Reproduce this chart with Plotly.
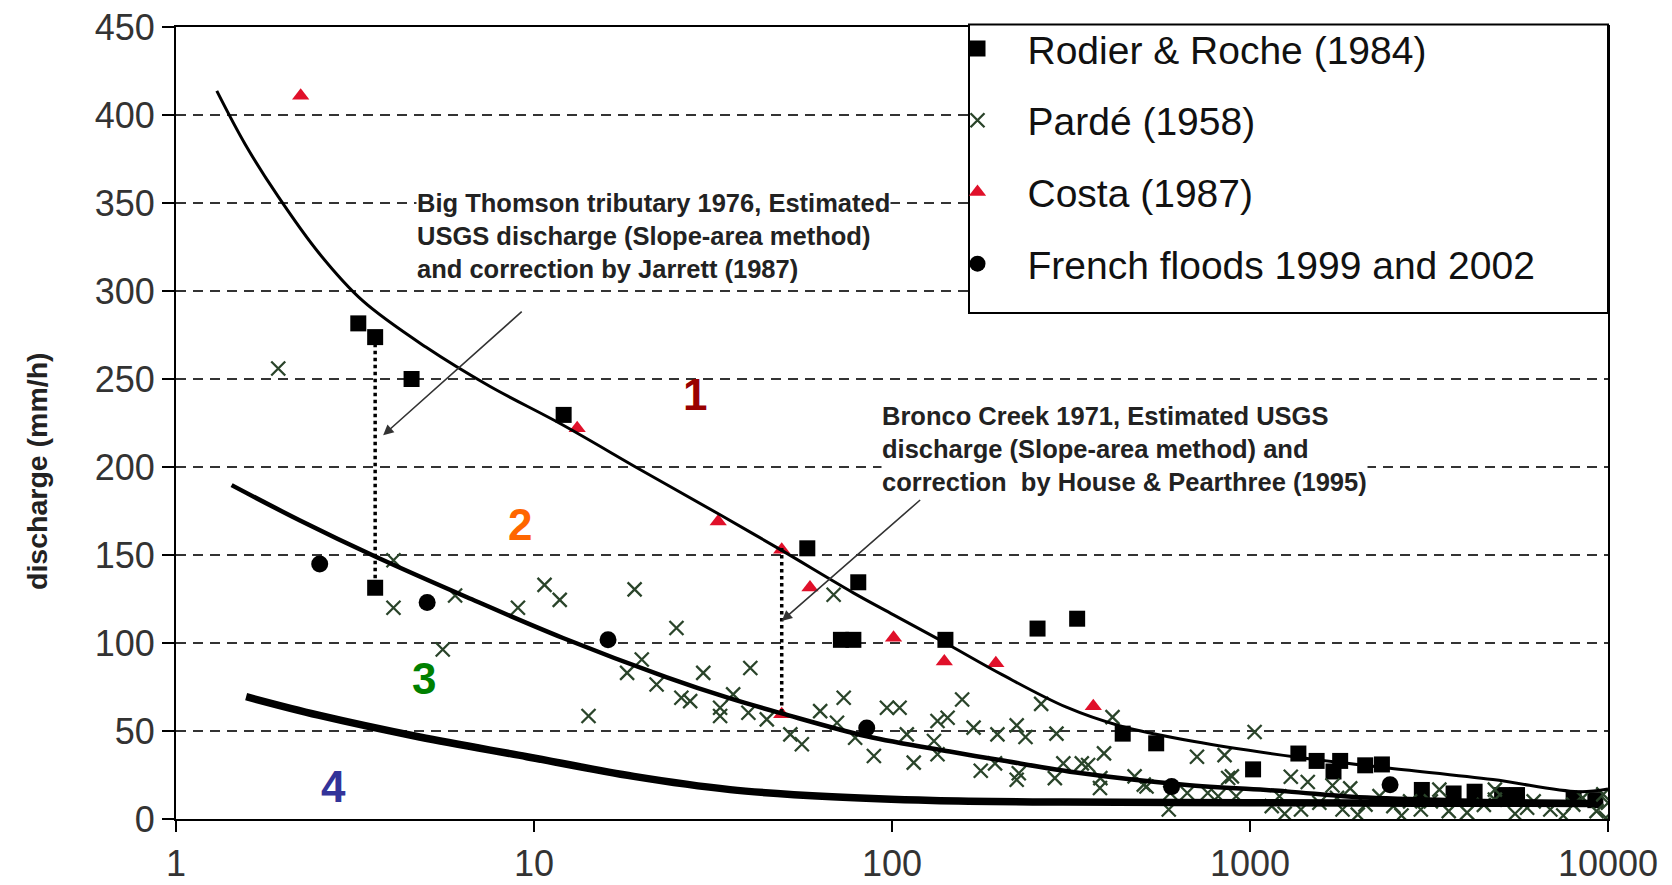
import numpy as np
import plotly.graph_objects as go

# ---------------- data ----------------
rodier_x = [3.23, 3.6, 4.55, 3.6, 12.1, 58, 80.5, 72, 78, 141, 255, 329, 441, 547,
            1020, 1365, 1535, 1711, 1786, 2098, 2336, 3020, 3704, 4240, 5060, 5570, 8016, 9220]
rodier_y = [281.6, 273.8, 250, 131.4, 229.6, 153.8, 134.5, 101.8, 101.8, 101.8, 108.2, 113.8, 48.5, 43,
            28.2, 37.2, 33, 27, 33, 30.5, 31, 16.5, 14.5, 15.5, 13.6, 13.6, 11.6, 10.7]

parde_x = [1.93, 4.05, 4.05, 6.02, 5.56, 9.02, 10.7, 11.8, 14.2, 18.2, 19.1, 20, 22, 25, 25.8, 27.3,
           29.7, 33.1, 33.1, 36, 39.7, 40.2, 44.7, 52, 56, 63, 68.7, 70.2, 73.3, 78.9, 89, 96.8, 105,
           110, 115, 131, 134, 134, 143, 157, 169, 177, 194, 197, 223, 223, 226, 236, 261, 285, 288,
           301, 339, 353, 381, 382, 391, 413, 476, 505, 514, 593, 599, 668, 711, 762, 815, 849, 869,
           890, 915, 1030, 1150, 1208, 1250, 1300, 1388, 1450, 1562, 1700, 1750, 1813, 1905, 2000,
           2102, 2300, 2514, 2650, 2800, 3000, 3200, 3380, 3590, 4040, 4500, 4830, 4830, 5500, 5945,
           6200, 6900, 7500, 8000, 8500, 9290, 9700, 9860, 10000]
parde_y = [256, 120, 147, 127, 96.3, 120, 133, 124.5, 58.5, 83, 130.5, 90.6, 76.4, 108.5, 68.9, 67,
           83, 63.2, 58.5, 70.8, 60.4, 85.8, 56.6, 48.1, 42.5, 61.3, 127.4, 54.7, 68.9, 46.2, 35.8, 63.2, 63.2,
           48.1, 32, 44.3, 55.7, 36.8, 57.5, 67.9, 51.9, 27.4, 31.6, 48.1, 53.2, 22.3, 26, 46.6, 65.4, 23.2, 48.5,
           31.6, 31.6, 30.7, 17.6, 23.2, 37.3, 57.9, 24.2, 19.5, 18.5, 5.4, 14.8, 14.8, 35.4, 14.8, 12.9, 36.3, 23.3,
           24.2, 12.9, 49.4, 7.3, 12.9, 3, 24, 5.4, 21, 9.2, 19, 12, 5.4, 17.4, 2.5,
           8.2, 13, 7.3, 2, 10, 5.4, 10, 16.7, 4.5, 3.6, 8, 11, 16.7, 3, 6.4,
           10, 5.4, 2, 8.2, 12, 4.5, 14, 0.7, 9.2]

costa_x = [2.23, 13.2, 32.7, 49.2, 59, 49.2, 101, 140, 195, 365]
costa_y = [411, 222, 169, 153, 131.5, 59.5, 103, 89.5, 88.5, 64]

french_x = [2.52, 5.03, 16.1, 85, 604, 2462]
french_y = [144.9, 123, 101.8, 51.7, 18.4, 19.4]

curve1_x = [1.30, 1.56, 1.92, 2.52, 3.32, 5.0, 7.5, 12, 20, 33, 49.2, 78, 101, 141, 203, 307, 432,
            699, 1359, 2402, 4769, 8251, 10000]
curve1_y = [413.7, 383.4, 354.3, 321, 294.5, 268, 246, 224, 198, 173, 152.6, 128.5, 116, 100, 82, 63.5, 53,
            44, 35.1, 29.1, 22.4, 15.5, 17]

curve2_x = [1.43, 2.22, 3.64, 6.5, 12, 23.5, 35.3, 49.2, 85, 145, 200, 339, 655, 1262, 1923, 3660, 9220]
curve2_y = [189.7, 169.6, 148.7, 126, 103, 80.5, 68.5, 60, 47, 38.3, 33.5, 26, 19.5, 15.7, 12.6, 10.7, 9.3]

curve3_x = [1.57, 2.5, 4.79, 9.55, 19, 35.3, 68, 130, 300, 1000, 3000, 9200]
curve3_y = [69.5, 59, 46.6, 35.4, 24.2, 16.7, 12.6, 10.5, 9.6, 9.3, 9.0, 8.8]

thomson_x = [3.6, 3.6]
thomson_y = [274, 131]
bronco_x = [49.2, 49.2]
bronco_y = [154, 59]

x_ticks = [1, 10, 100, 1000, 10000]
x_ticktext = ["1", "10", "100", "1000", "10000"]
y_ticks = [0, 50, 100, 150, 200, 250, 300, 350, 400, 450]

FONT = "Liberation Sans, Arial, sans-serif"
OFF = 8                       # page body margin of the browser
PL, PT, PW, PH = 176, 27, 1432, 792   # wanted plot box in the screenshot
L, T = PL - OFF, PT - OFF
FW, FH = 1672 - OFF, 885 - OFF
R, B = FW - L - PW, FH - T - PH

fig = go.Figure()

fig.add_trace(go.Scatter(x=rodier_x, y=rodier_y, mode="markers", name="Rodier & Roche (1984)",
                         legendgroup="a",
                         marker=dict(symbol="square", size=16, color="black")))
fig.add_trace(go.Scatter(x=parde_x, y=parde_y, mode="markers", name="Pardé (1958)",
                         legendgroup="b",
                         marker=dict(symbol="x-thin", size=14, color="#2a442a",
                                     line=dict(width=2.3, color="#2a442a"))))
fig.add_trace(go.Scatter(x=costa_x, y=costa_y, mode="markers", name="Costa (1987)",
                         legendgroup="c",
                         marker=dict(symbol="triangle-up", size=15, color="#e0102a")))
fig.add_trace(go.Scatter(x=french_x, y=french_y, mode="markers", name="French floods 1999 and 2002",
                         legendgroup="d",
                         marker=dict(symbol="circle", size=17, color="black")))

for cx, cy, w in [(curve1_x, curve1_y, 3), (curve2_x, curve2_y, 4.5), (curve3_x, curve3_y, 7.5)]:
    fig.add_trace(go.Scatter(x=cx, y=cy, mode="lines", showlegend=False, hoverinfo="skip",
                             line=dict(color="black", width=w, shape="spline", smoothing=1.0)))

for dx, dy in [(thomson_x, thomson_y), (bronco_x, bronco_y)]:
    fig.add_trace(go.Scatter(x=dx, y=dy, mode="lines", showlegend=False, hoverinfo="skip",
                             line=dict(color="black", width=3.5, dash="dot")))

annotations = [
    dict(x=np.log10(4.68), y=358.5, xref="x", yref="y", xanchor="left", yanchor="top", align="left",
         showarrow=False, bgcolor="white", borderpad=0,
         text="<b>Big Thomson tributary 1976, Estimated<br>USGS discharge (Slope-area method)<br>and correction by Jarrett (1987)</b>",
         font=dict(family=FONT, size=25.5, color="#222")),
    dict(x=np.log10(92.9), y=237.5, xref="x", yref="y", xanchor="left", yanchor="top", align="left",
         showarrow=False, bgcolor="white", borderpad=0,
         text="<b>Bronco Creek 1971, Estimated USGS<br>discharge (Slope-area method) and<br>correction  by House &amp; Pearthree (1995)</b>",
         font=dict(family=FONT, size=25.5, color="#222")),
    dict(x=np.log10(3.79), y=218, ax=np.log10(9.33), ay=289, xref="x", yref="y", axref="x", ayref="y",
         text="", showarrow=True, arrowhead=2, arrowsize=1.3, arrowwidth=1.6, arrowcolor="#333"),
    dict(x=np.log10(49.2), y=112.5, ax=np.log10(121), ay=182, xref="x", yref="y", axref="x", ayref="y",
         text="", showarrow=True, arrowhead=2, arrowsize=1.3, arrowwidth=1.6, arrowcolor="#333"),
    dict(x=(37 - PL) / PW, y=(PT + PH - 471) / PH, xref="paper", yref="paper", showarrow=False,
         xanchor="center", yanchor="middle",
         textangle=-90, text="<b>discharge (mm/h)</b>",
         font=dict(family=FONT, size=28.5, color="#222")),
]
for txt, lx, ly, col in [("1", 28.2, 241.4, "#990000"), ("2", 9.14, 167.3, "#ff6600"),
                         ("3", 4.93, 79.7, "#008000"), ("4", 2.76, 18.5, "#333399")]:
    annotations.append(dict(x=np.log10(lx), y=ly, xref="x", yref="y", showarrow=False,
                            text="<b>" + txt + "</b>", font=dict(family=FONT, size=44, color=col)))

fig.update_layout(
    template="none",
    width=FW, height=FH,
    paper_bgcolor="white", plot_bgcolor="white",
    margin=dict(l=L, r=R, t=T, b=B, autoexpand=False),
    font=dict(family=FONT, color="#222"),
    showlegend=True,
    legend=dict(x=(927.5 - PL) / PW, xanchor="left", y=1.013, yanchor="top", itemwidth=90,
                bgcolor="rgba(0,0,0,0)", borderwidth=0, traceorder="grouped",
                tracegroupgap=18, font=dict(family=FONT, size=39, color="#111")),
    annotations=annotations,
    shapes=[dict(type="rect", xref="paper", yref="paper", x0=(969 - PL) / PW, x1=1.0,
                 y0=(PT + PH - 313) / PH, y1=1.003, fillcolor="white",
                 line=dict(color="black", width=2), layer="above")],
)

fig.update_xaxes(type="log", range=[0, 4], tickvals=x_ticks, ticktext=x_ticktext, automargin=False,
                 showgrid=False, zeroline=False, showline=True, linecolor="black", linewidth=2,
                 mirror=True, ticks="outside", ticklen=11, tickwidth=2, tickcolor="black",
                 ticklabelstandoff=1, ticklabeloverflow="allow",
                 tickfont=dict(family=FONT, size=36, color="#333"))
fig.update_yaxes(range=[0, 450], tickvals=y_ticks, automargin=False, showgrid=True, gridcolor="#333",
                 gridwidth=2, griddash="10px,7px", zeroline=False, showline=True, linecolor="black",
                 linewidth=2, mirror=True, ticks="outside", ticklen=12, tickwidth=2, tickcolor="black",
                 ticklabelstandoff=0, ticklabeloverflow="allow",
                 tickfont=dict(family=FONT, size=36, color="#333"))

fig.write_html("out.html")
